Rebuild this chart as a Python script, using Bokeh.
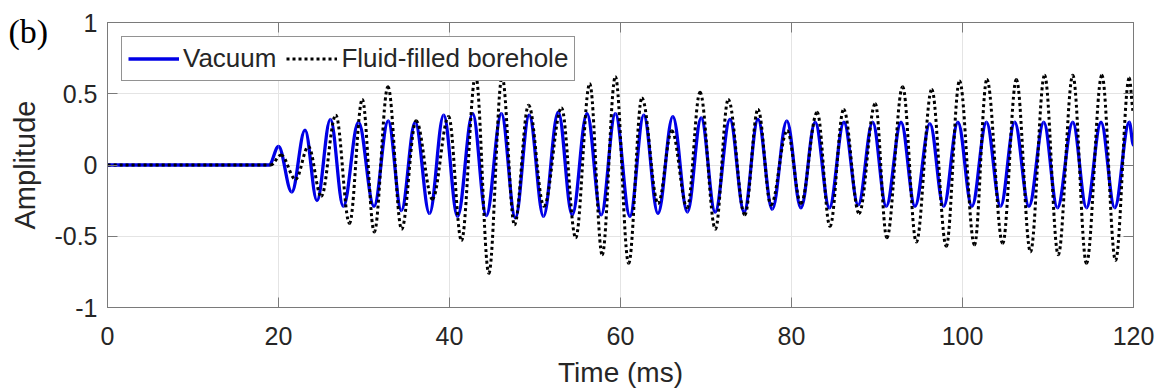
import numpy as np
from bokeh.plotting import figure
from bokeh.models import Range1d, FixedTicker, LinearAxis, Label, ColumnDataSource
from bokeh.embed import file_html
from bokeh.resources import INLINE

# ---------------- data ----------------
# extrema of the "Vacuum" trace (time in ms, amplitude)
vac_t = [0.0, 18.9, 20.0, 21.55, 23.1, 24.5, 26.07, 27.58, 29.35, 31.17, 32.83, 34.37,
         35.99, 37.66, 39.32, 40.94, 42.71, 44.3, 46.07, 47.7, 49.32, 50.99, 52.72, 54.35,
         56.08, 57.74, 59.4, 61.1, 62.72, 64.38, 66.12, 67.82, 69.44, 71.07, 72.8, 74.46,
         76.08, 77.75, 79.45, 81.1, 82.77, 84.43, 86.13, 87.8, 89.49, 91.08, 92.81, 94.44,
         96.18, 97.8, 99.46, 101.1, 102.8, 104.45, 106.1, 107.77, 109.5, 111.1, 112.9,
         114.5, 116.2, 117.8, 119.5, 120.0]
vac_a = [0.0, 0.0, 0.13, -0.19, 0.245, -0.25, 0.32, -0.29, 0.30, -0.29, 0.31, -0.32,
         0.30, -0.34, 0.35, -0.36, 0.36, -0.355, 0.36, -0.37, 0.35, -0.36, 0.37, -0.35,
         0.36, -0.35, 0.36, -0.36, 0.35, -0.34, 0.34, -0.33, 0.33, -0.33, 0.32, -0.33,
         0.32, -0.31, 0.31, -0.30, 0.30, -0.30, 0.30, -0.28, 0.30, -0.29, 0.30, -0.29,
         0.29, -0.29, 0.30, -0.29, 0.30, -0.29, 0.30, -0.29, 0.30, -0.30, 0.30,
         -0.30, 0.30, -0.30, 0.30, 0.14]

# extrema of the "Fluid-filled borehole" trace
flu_t = [0.0, 19.1, 20.3, 22.0, 23.5, 25.0, 26.7, 28.3, 29.8, 31.2, 32.8, 34.4,
         36.1, 38.0, 39.9, 41.4, 43.06, 44.6, 46.15, 47.6, 49.25, 51.05, 53.1, 54.76,
         56.4, 57.86, 59.4, 60.95, 62.5, 64.4, 66.0, 67.8, 69.3, 71.1, 72.6, 74.54,
         76.08, 77.6, 79.5, 81.1, 83.0, 84.5, 86.1, 87.9, 89.8, 91.15, 93.0, 94.6,
         96.4, 98.1, 99.65, 101.4, 102.85, 104.7, 106.3, 107.95, 109.6, 111.2, 112.9,
         114.5, 116.3, 117.9, 119.5, 120.0]
flu_a = [0.0, 0.0, 0.07, -0.10, 0.13, -0.22, 0.35, -0.41, 0.46, -0.47, 0.55, -0.45,
         0.31, -0.24, 0.34, -0.53, 0.63, -0.76, 0.62, -0.42, 0.42, -0.29, 0.40, -0.51,
         0.57, -0.63, 0.62, -0.69, 0.47, -0.27, 0.24, -0.30, 0.51, -0.45, 0.46, -0.35,
         0.39, -0.28, 0.24, -0.27, 0.37, -0.43, 0.39, -0.34, 0.43, -0.51, 0.55, -0.54,
         0.53, -0.57, 0.59, -0.56, 0.60, -0.55, 0.60, -0.61, 0.63, -0.63, 0.63,
         -0.69, 0.63, -0.67, 0.61, 0.37]

series_names = ["Vacuum", "Fluid-filled borehole"]
x_ticks = [0, 20, 40, 60, 80, 100, 120]
y_ticks = [-1, -0.5, 0, 0.5, 1]
y_tick_labels = ["-1", "-0.5", "0", "0.5", "1"]
x_label = "Time (ms)"
y_label = "Amplitude"
panel_tag = "(b)"


def bezier_source(t, a, k=0.364):
    """Smooth cubic segments between consecutive extrema (horizontal tangents)."""
    t = np.asarray(t, float)
    a = np.asarray(a, float)
    x0, x1, y0, y1 = t[:-1], t[1:], a[:-1], a[1:]
    dt = x1 - x0
    return ColumnDataSource(dict(x0=x0, y0=y0, x1=x1, y1=y1,
                                 cx0=x0 + k * dt, cy0=y0, cx1=x1 - k * dt, cy1=y1))


FONT = "Liberation Sans"
TXT = "#262626"
AX = "#7a7a7a"

p = figure(width=1173, height=392, output_backend="svg", toolbar_location=None,
           x_range=Range1d(0, 120), y_range=Range1d(-1, 1),
           min_border_left=107, min_border_right=31, min_border_top=22, min_border_bottom=85)
p.background_fill_color = "white"
p.border_fill_color = "white"
p.outline_line_color = AX
p.outline_line_width = 1

common = dict(x0="x0", y0="y0", x1="x1", y1="y1", cx0="cx0", cy0="cy0", cx1="cx1", cy1="cy1")
p.bezier(source=bezier_source(vac_t, vac_a), line_color="#0000e6", line_width=3.3,
         legend_label=series_names[0], **common)
p.bezier(source=bezier_source(flu_t, flu_a), line_color="black", line_width=3,
         line_dash="3 3", legend_label=series_names[1], **common)

# axes
p.xaxis.ticker = FixedTicker(ticks=x_ticks)
p.yaxis.ticker = FixedTicker(ticks=y_ticks)
p.yaxis.major_label_overrides = {t: l for t, l in zip(y_ticks, y_tick_labels)}
for ax in (p.xaxis[0], p.yaxis[0]):
    ax.axis_line_color = AX
    ax.major_tick_line_color = AX
    ax.major_tick_in = 10
    ax.major_tick_out = 0
    ax.minor_tick_line_color = None
    ax.major_label_text_font = FONT
    ax.major_label_text_font_size = "25px"
    ax.major_label_text_color = TXT
    ax.axis_label_text_font = FONT
    ax.axis_label_text_font_size = "28px"
    ax.axis_label_text_font_style = "normal"
    ax.axis_label_text_color = TXT
p.xaxis.axis_label = x_label
p.yaxis.axis_label = y_label
p.yaxis.axis_label_text_font_size = "29px"
p.xaxis.major_label_standoff = 19
p.xaxis.axis_label_standoff = 9
p.yaxis.major_label_standoff = 10
p.yaxis.axis_label_standoff = 10

# mirrored box axes (ticks only, no labels)
p.extra_x_ranges = {"top": Range1d(0, 120)}
p.extra_y_ranges = {"right": Range1d(-1, 1)}
top_ax = LinearAxis(x_range_name="top", ticker=FixedTicker(ticks=x_ticks))
right_ax = LinearAxis(y_range_name="right", ticker=FixedTicker(ticks=y_ticks))
top_ax.major_label_overrides = {t: "" for t in x_ticks}
right_ax.major_label_overrides = {t: "" for t in y_ticks}
for ax in (top_ax, right_ax):
    ax.axis_line_color = AX
    ax.major_tick_line_color = AX
    ax.major_tick_in = 10
    ax.major_tick_out = 0
    ax.minor_tick_line_color = None
    ax.major_label_text_font_size = "0px"
    ax.major_label_standoff = 0
p.add_layout(top_ax, "above")
p.add_layout(right_ax, "right")

# grid
for g in (p.xgrid[0], p.ygrid[0]):
    g.grid_line_color = "#e4e4e4"
    g.grid_line_width = 1
p.xgrid.ticker = FixedTicker(ticks=x_ticks)
p.ygrid.ticker = FixedTicker(ticks=y_ticks)

# legend
lg = p.legend[0]
lg.location = "top_left"
lg.orientation = "horizontal"
lg.margin = 14
lg.padding = 6
lg.spacing = 10
lg.glyph_width = 51
lg.glyph_height = 25
lg.label_height = 25
lg.label_standoff = 4
lg.label_text_font = FONT
lg.label_text_font_size = "26px"
lg.label_text_color = TXT
lg.border_line_color = "#262626"
lg.border_line_width = 1
lg.background_fill_color = "white"
lg.background_fill_alpha = 1

# panel tag: lives in the (unclipped) right side panel, drawn far to the left
p.add_layout(Label(x=-1125, y=276, x_units="screen", y_units="screen", text=panel_tag,
                   text_font="Liberation Serif", text_font_size="34px",
                   text_color="black", text_baseline="alphabetic"), "right")

open("out.html", "w").write(file_html(p, INLINE))
